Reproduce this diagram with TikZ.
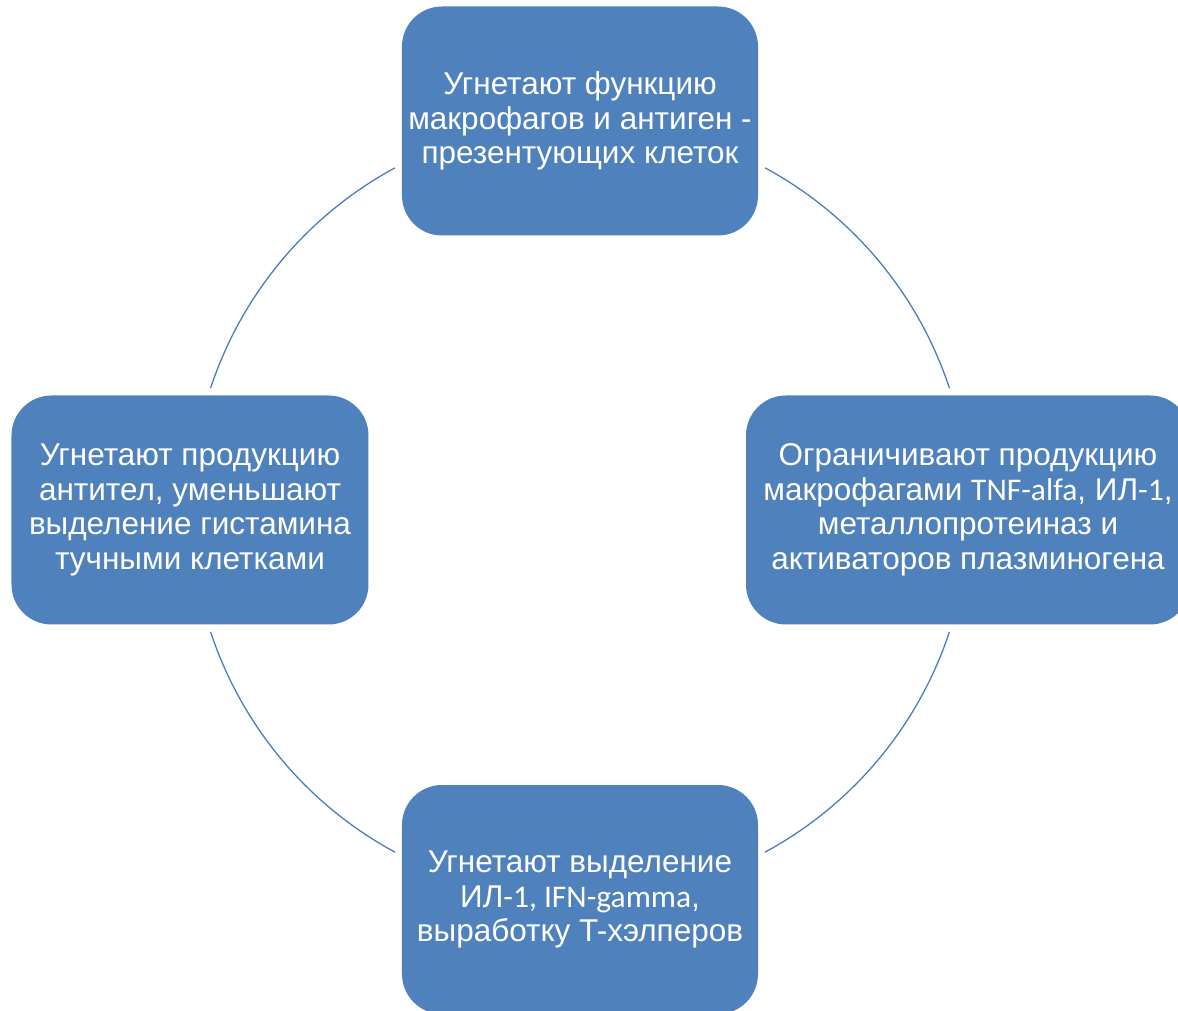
\documentclass[tikz,border=0pt]{standalone}
\usepackage{fontspec}
\setmainfont{Liberation Sans}
\newfontfamily\calib{Carlito}
\usetikzlibrary{positioning}

\definecolor{boxblue}{HTML}{4F81BD}
\definecolor{ringblue}{HTML}{4A7EBB}

\tikzset{
	cell/.style={rectangle, rounded corners=40pt, fill=boxblue, text=white,
		minimum width=356pt, minimum height=229pt, align=center,
		font=\fontsize{31.5}{34.5}\selectfont, inner sep=0pt},
	ring/.style={draw=ringblue, line width=1.3pt}
}

\begin{document}
\begin{tikzpicture}[x=1pt, y=1pt]

	\useasboundingbox (-580,-501) rectangle (598,510);
	\clip (-580,-501) rectangle (598,510);

	% draw arcs between the boxes
	\foreach \a/\b [count=\i] in {18.25/61.6, 118.4/161.75, 198.25/241.6, 298.4/341.75}
	{
		\coordinate (s_\i) at (\a:389);
		\draw[ring] (s_\i) arc[start angle=\a, end angle=\b, radius=389];
	}

	% draw the four boxes
	\node[cell] (top) at (0,389) {Угнетают функцию\\макрофагов и антиген -\\презентующих клеток};
	\node[cell, minimum width=444pt] (right) at (388,0) {Ограничивают продукцию\\макрофагами {\calib TNF-alfa}, ИЛ{\calib -1},\\металлопротеиназ и\\активаторов плазминогена};
	\node[cell] (bottom) at (0,-389.5) {Угнетают выделение\\ИЛ{\calib -1, IFN-gamma},\\выработку T-хэлперов};
	\node[cell, minimum width=357pt] (left) at (-390,0) {Угнетают продукцию\\антител, уменьшают\\выделение гистамина\\тучными клетками};

\end{tikzpicture}
\end{document}
